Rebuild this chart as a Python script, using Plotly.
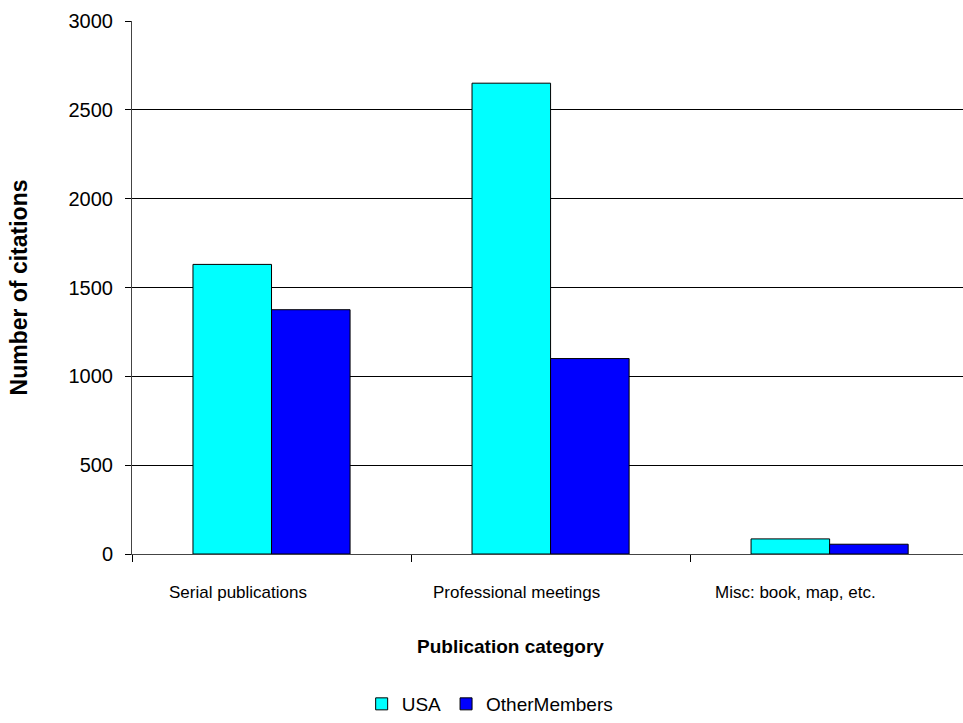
import plotly.graph_objects as go

categories = ["Serial publications", "Professional meetings", "Misc: book, map, etc."]
usa = [1630, 2650, 85]
other_members = [1375, 1100, 55]
y_ticks = [0, 500, 1000, 1500, 2000, 2500, 3000]

FONT = "Liberation Sans, Arial, sans-serif"

fig = go.Figure()
fig.add_trace(go.Bar(
    x=categories, y=usa, name="USA",
    marker=dict(color="#00FFFF", line=dict(color="black", width=1)),
))
fig.add_trace(go.Bar(
    x=categories, y=other_members, name="OtherMembers",
    marker=dict(color="#0000FF", line=dict(color="black", width=1)),
))

# category labels sit a little left of each bar pair
cat_labels = [
    dict(text=c, xref="x", yref="paper", x=c, y=0, xanchor="center", yanchor="top",
         xshift=-34, yshift=-27, showarrow=False, font=dict(size=17, family=FONT))
    for c in categories
]

fig.update_layout(
    width=963, height=723,
    margin=dict(l=132, r=0, t=21, b=168),
    paper_bgcolor="white", plot_bgcolor="white",
    barmode="group", bargap=0.437, bargroupgap=0,
    font=dict(family=FONT, color="black"),
    showlegend=True,
    legend=dict(
        orientation="h", x=0.431, xanchor="center", y=-0.281, yanchor="middle",
        font=dict(size=19, family=FONT), itemwidth=30, traceorder="normal",
    ),
    xaxis=dict(
        type="category", range=[-0.5, 2.478],
        tickson="boundaries", ticks="outside", ticklen=7, tickcolor="black",
        showline=True, linecolor="#444", linewidth=1,
        showgrid=False, showticklabels=False,
    ),
    yaxis=dict(
        range=[0, 3000], tickvals=y_ticks,
        ticks="outside", ticklen=6, tickcolor="black",
        showline=True, linecolor="#444", linewidth=1,
        showgrid=True, gridcolor="black", gridwidth=1,
        zeroline=False, tickfont=dict(size=20, family=FONT),
        ticklabelstandoff=8,
    ),
    annotations=cat_labels + [
        dict(text="<b>Publication category</b>", xref="paper", yref="paper",
             x=0.455, y=-0.174, xanchor="center", yanchor="middle",
             showarrow=False, font=dict(size=19, family=FONT)),
        dict(text="<b>Number of citations</b>", xref="paper", yref="paper",
             x=-0.136, y=0.5, xanchor="center", yanchor="middle", textangle=-90,
             showarrow=False, font=dict(size=23, family=FONT)),
    ],
)

fig.write_html("out.html")
